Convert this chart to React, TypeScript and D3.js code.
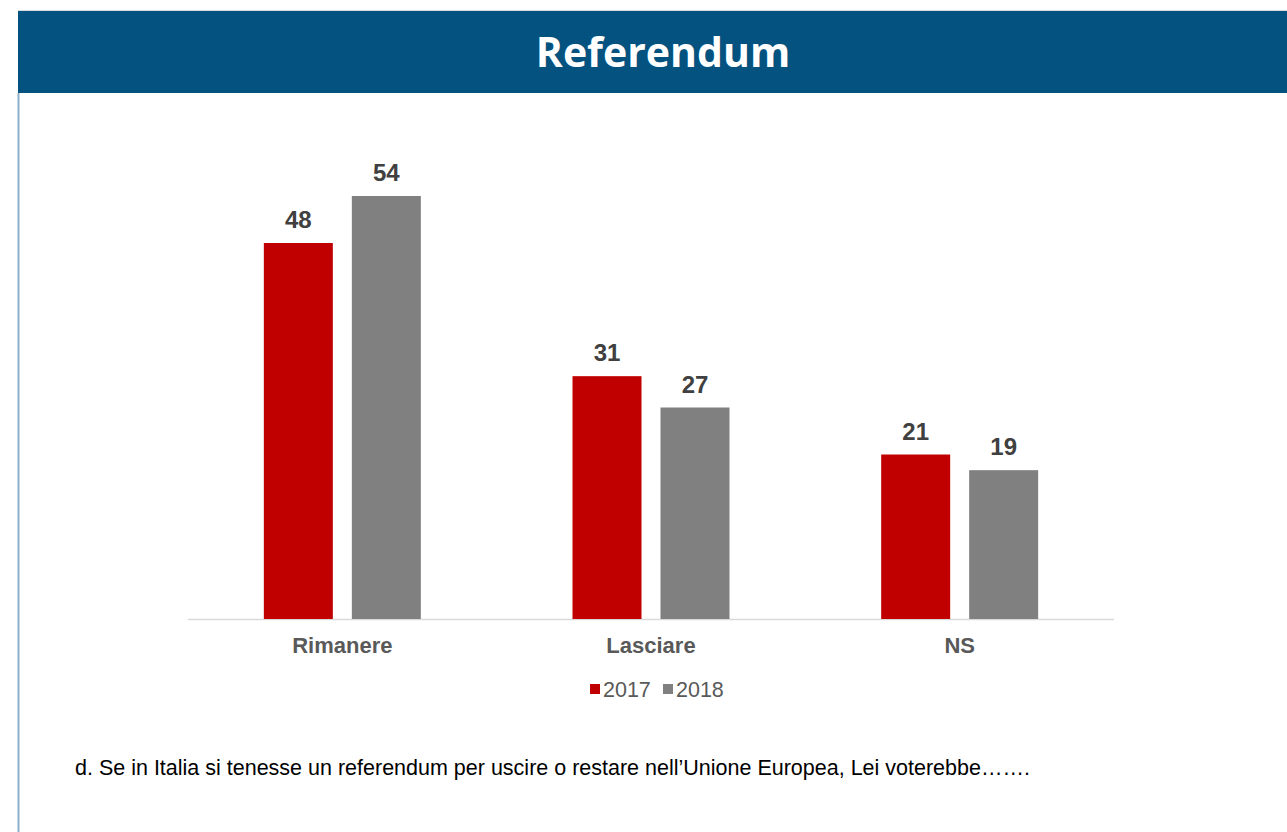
import React from "react";
import * as d3 from "d3";

const categories = ["Rimanere", "Lasciare", "NS"];
const seriesNames = ["2017", "2018"];
const values2017 = [48, 31, 21];
const values2018 = [54, 27, 19];
const seriesColors = ["#C00000", "#808080"];
const titleText = "Referendum";
const footnote = "d. Se in Italia si tenesse un referendum per uscire o restare nell\u2019Unione Europea, Lei voterebbe\u2026\u2026.";

export default function App() {
  const W = 1287, H = 832;
  const baseY = 619;
  const x0 = d3.scaleBand<string>().domain(categories).range([188, 1114]).padding(0);
  const groupW = 157;
  const x1 = d3.scaleBand<string>().domain(seriesNames).range([0, groupW]).paddingInner(19 / 88).paddingOuter(0);
  const y = d3.scaleLinear().domain([0, 60]).range([baseY, baseY - 470]);
  const series = [values2017, values2018];
  const font = "'Liberation Sans', Arial, sans-serif";

  return (
    <svg width={W} height={H} style={{ position: "absolute", left: 0, top: 0, display: "block" }}>
      <rect x={0} y={0} width={W} height={H} fill="#ffffff" />
      <line x1={18} x2={W} y1={10.5} y2={10.5} stroke="#d8dde2" strokeWidth={1} />
      <rect x={18} y={11} width={W - 18} height={82} fill="#03527F" />
      <line x1={18.5} x2={18.5} y1={93} y2={H} stroke="#8DB1CD" strokeWidth={2} />
      <text x={663} y={67} textAnchor="middle" fill="#ffffff" fontFamily="'Open Sans', sans-serif" fontWeight={700} fontSize={41}>{titleText}</text>

      <line x1={188} x2={1114} y1={baseY + 0.5} y2={baseY + 0.5} stroke="#D9D9D9" strokeWidth={1.5} />

      {categories.map((c, i) => {
        const gx = (x0(c) as number) + (x0.bandwidth() - groupW) / 2;
        return (
          <g key={c}>
            {seriesNames.map((s, j) => {
              const v = series[j][i];
              const bx = gx + (x1(s) as number);
              return (
                <g key={s}>
                  <rect x={bx} y={y(v)} width={x1.bandwidth()} height={baseY - y(v)} fill={seriesColors[j]} />
                  <text x={bx + x1.bandwidth() / 2} y={y(v) - 15} textAnchor="middle" fill="#404040" fontFamily={font} fontWeight={700} fontSize={24}>{v}</text>
                </g>
              );
            })}
            <text x={(x0(c) as number) + x0.bandwidth() / 2} y={653} textAnchor="middle" fill="#595959" fontFamily={font} fontWeight={700} fontSize={22}>{c}</text>
          </g>
        );
      })}

      {seriesNames.map((s, j) => {
        const lx = 590 + j * 73;
        return (
          <g key={s}>
            <rect x={lx} y={684} width={10} height={10} fill={seriesColors[j]} />
            <text x={lx + 13} y={697} fill="#595959" fontFamily={font} fontSize={21.5}>{s}</text>
          </g>
        );
      })}

      <text x={75} y={775} fill="#000000" fontFamily={font} fontSize={21.5}>{footnote}</text>
    </svg>
  );
}
